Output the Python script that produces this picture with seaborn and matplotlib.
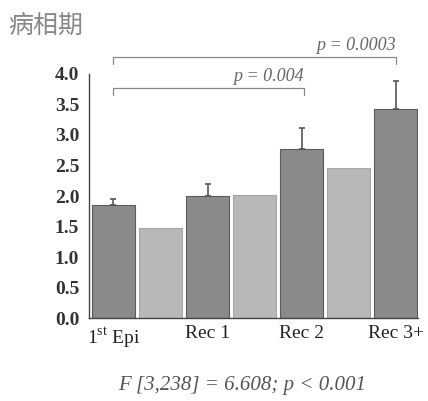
import matplotlib
matplotlib.use("Agg")
import matplotlib.pyplot as plt
import seaborn as sns
import pandas as pd
import numpy as np

# Data
bar_labels = ["1st Epi", "ctrl1", "Rec 1", "ctrl2", "Rec 2", "ctrl3", "Rec 3+"]
bar_values = [1.85, 1.48, 2.00, 2.02, 2.77, 2.46, 3.43]
bar_errors = [0.11, 0.0, 0.19, 0.0, 0.35, 0.0, 0.45]
bar_groups = ["patient", "control", "patient", "control", "patient", "control", "patient"]
tick_labels = ["1$^{\\mathrm{st}}$ Epi", "Rec 1", "Rec 2", "Rec 3+"]
y_ticks = [0.0, 0.5, 1.0, 1.5, 2.0, 2.5, 3.0, 3.5, 4.0]
title_text = "病相期"
stat_text = "F [3,238] = 6.608; p < 0.001"

sns.set_style("white")
plt.rcParams["font.family"] = ["Liberation Serif", "DejaVu Serif"]
plt.rcParams["mathtext.fontset"] = "custom"
plt.rcParams["mathtext.rm"] = "Liberation Serif"

df = pd.DataFrame({"label": bar_labels, "value": bar_values,
                   "group": bar_groups, "err": bar_errors})

fig = plt.figure(figsize=(4.28, 4.01), dpi=100)
ax = fig.add_axes([0.208, 0.206, 0.769, 0.610])

palette = {"patient": "#8a8a8a", "control": "#b8b8b8"}
sns.barplot(data=df, x="label", y="value", hue="group", palette=palette,
            dodge=False, width=0.9, legend=False, ax=ax, errorbar=None,
            saturation=1)
for patch in ax.patches:
    fc = patch.get_facecolor()
    if fc[0] < 0.6:
        patch.set_edgecolor("#5a5a5a")
    else:
        patch.set_edgecolor("#a5a5a5")
    patch.set_linewidth(0.8)

# error bars (upper only)
xs = np.arange(len(bar_labels))
for x, v, e in zip(xs, bar_values, bar_errors):
    if e > 0:
        ax.errorbar(x, v, yerr=[[0], [e]], fmt="none", ecolor="#555555",
                    elinewidth=1.2, capsize=2, capthick=1.2)

ax.set_xlim(-0.52, 6.48)
ax.set_ylim(0, 4.0)
ax.set_yticks(y_ticks)
ax.set_yticklabels([f"{t:.1f}" for t in y_ticks], fontsize=14, fontweight="bold",
                   color="#333333")
ax.set_xticks([0, 2, 4, 6])
ax.set_xticklabels(tick_labels, fontsize=14, color="#222222")
ax.set_xlabel("")
ax.set_ylabel("")
for s in ["top", "right"]:
    ax.spines[s].set_visible(False)
ax.spines["left"].set_color("#444444")
ax.spines["bottom"].set_color("#444444")
ax.spines["left"].set_linewidth(1.0)
ax.spines["bottom"].set_linewidth(1.0)
ax.tick_params(axis="y", direction="out", length=4, width=0.8, color="#444444", pad=3)
ax.tick_params(axis="x", length=0, pad=5)

# significance brackets
def bracket(x0, x1, y, h, txt, ty):
    ax.plot([x0, x0, x1, x1], [y - h, y, y, y - h], color="#888888", lw=0.9,
            clip_on=False)
    ax.text(x1, ty, txt, ha="right", va="bottom", fontsize=13, style="italic",
            color="#666666", clip_on=False)

bracket(0, 4.05, 3.77, 0.12, "p = 0.004", 3.82)
bracket(0, 6, 4.28, 0.12, "p = 0.0003", 4.33)

fig.text(0.02, 0.90, title_text, fontsize=18, color="#888888",
         family=["Noto Sans CJK SC", "DejaVu Sans"], ha="left", va="bottom")
fig.text(0.565, 0.015, stat_text, fontsize=15, style="italic", color="#555555",
         ha="center", va="bottom")

fig.savefig("out.png", dpi=100)
